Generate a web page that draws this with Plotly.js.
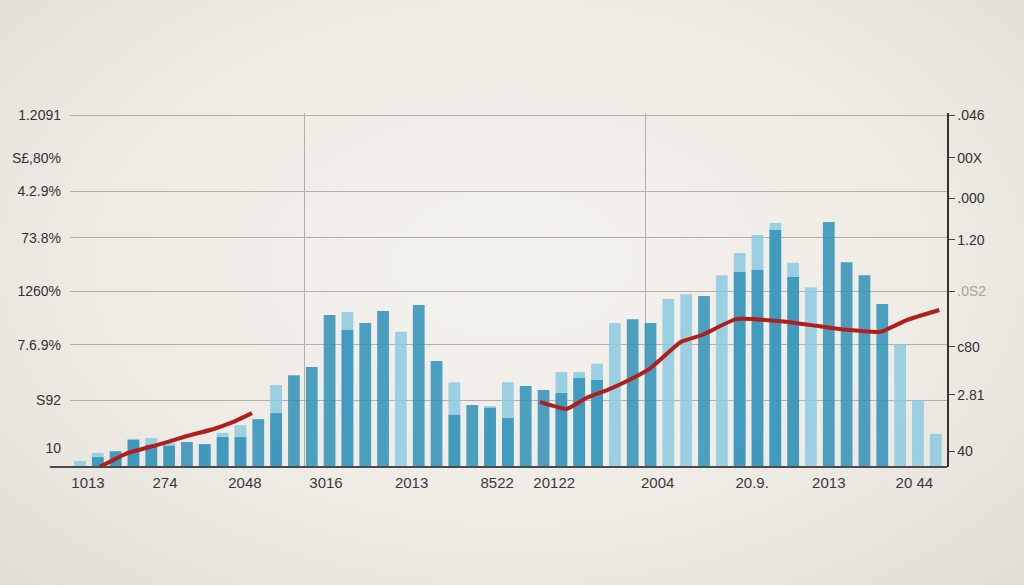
<!DOCTYPE html>
<html>
<head>
<meta charset="utf-8">
<script src="https://cdn.plot.ly/plotly-3.0.1.min.js"></script>
<style>
  html, body { margin: 0; padding: 0; }
  body {
    width: 1024px; height: 585px; overflow: hidden;
    background: radial-gradient(ellipse at 50% 45%, #f4f2ed 0%, #efece6 55%, #e2ded6 100%);
  }
  #chart { width: 1024px; height: 585px; }
</style>
</head>
<body>
<div id="chart"></div>
<script>
// ---- data (arbitrary units, 0..100) ----
const barIndex = [0,1,2,3,4,5,6,7,8,9,10,11,12,13,14,15,16,17,18,19,20,21,22,23,24,
                  25,26,27,28,29,30,31,32,33,34,35,36,37,38,39,40,41,42,43,44,45,46,47,48];

const lightValues = [1.7,4.0,4.0,8.0,8.2,6.8,null,6.5,9.7,11.9,null,23.3,null,null,null,44.0,null,null,38.4,null,
                     null,24.1,null,17.3,24.1,null,null,27.0,27.0,29.3,40.9,null,null,47.7,49.1,null,54.5,60.8,65.9,69.3,
                     58.0,51.1,null,null,null,null,34.9,19.0,9.4];

const darkValues  = [null,2.8,4.5,7.7,6.3,6.0,7.1,6.5,8.5,8.5,13.6,15.3,26.1,28.4,43.2,38.9,40.9,44.3,null,46.0,
                     30.1,14.8,17.6,16.8,13.9,23.0,21.9,21.0,25.3,24.7,null,42.0,40.9,null,null,48.6,null,55.4,56.0,67.3,
                     54.0,null,69.6,58.2,54.5,46.3,null,null,null];

const lineX = [1.1,2.7,4.5,6.0,7.5,8.6,9.65, 17.5,
               25.8,27.3,28.4,29.6,30.8,32.0,33.7,34.9,36.8,39.7,41.3,42.6,44.9,46.4,48.2];
const lineY = [0,4.0,6.5,8.8,10.8,12.8,15.3, null,
               18.5,16.5,19.6,21.9,24.7,28.1,35.5,37.5,42.0,41.2,40.1,39.2,38.4,41.8,44.6];

const xTickVals = [0.45,4.77,9.25,13.8,18.6,23.4,26.6,32.4,37.7,42.0,46.8];
const xTickText = ["1013","274","2048","3016","2013","8522","20122","2004","20.9.","2013","20 44"];

const leftTickVals = [100,87.8,78.4,65.1,50.0,34.7,19.0,5.4];
const leftTickText = ["1.2091","S£,80%","4.2.9%","73.8%","1260%","7.6.9%","S92","10"];

const rightTickVals = [100,87.8,76.4,64.5,50.0,34.1,20.5,4.5];
const rightTickText = [".046","00X",".000","1.20",'<span style="color:#a7a49e">.0S2</span>',"c80","2.81","40"];

const hGridVals = [100,78.4,65.1,50.0,34.7,19.0];
const vGridVals = [12.6,31.7];

// ---- chart ----
const xRange = [-0.56, 48.63];
const yRange = [0, 100.57];
const font = {family: "Liberation Sans, Arial, sans-serif", size: 14, color: "#3a3a3a"};

const traces = [
  {type: "bar", x: barIndex, y: lightValues, width: 0.66,
   marker: {color: "rgba(140,202,225,0.85)", line: {width: 0}}, hoverinfo: "skip"},
  {type: "bar", x: barIndex, y: darkValues, width: 0.66,
   marker: {color: "rgba(50,145,184,0.86)", line: {width: 0}}, hoverinfo: "skip"},
  {type: "scatter", mode: "lines", x: lineX, y: lineY, connectgaps: false,
   line: {color: "#b21e1e", width: 4, shape: "spline", smoothing: 0.4}, hoverinfo: "skip"}
];

const layout = {
  width: 1024, height: 585,
  margin: {l: 70, r: 77, t: 113, b: 118},
  paper_bgcolor: "rgba(0,0,0,0)",
  plot_bgcolor: "rgba(0,0,0,0)",
  showlegend: false,
  barmode: "overlay",
  font: font,
  xaxis: {range: xRange, tickmode: "array", tickvals: xTickVals, ticktext: xTickText,
          showgrid: false, zeroline: false, showline: false, ticks: "",
          ticklabelstandoff: 5, tickfont: {size: 15, color: "#3a3a3a"}},
  xaxis2: {overlaying: "x", matches: "x", range: xRange, tickmode: "array", tickvals: vGridVals,
           showticklabels: false, showgrid: true, gridcolor: "#b3b0a9", gridwidth: 1,
           zeroline: false, ticks: ""},
  yaxis: {range: yRange, tickmode: "array", tickvals: leftTickVals, ticktext: leftTickText,
          showgrid: false, zeroline: false, showline: false, ticks: "",
          ticklabelstandoff: 8, tickfont: {size: 14, color: "#333"}},
  yaxis3: {overlaying: "y", range: yRange, tickmode: "array", tickvals: hGridVals,
           showticklabels: false, showgrid: true, gridcolor: "#b3b0a9", gridwidth: 1,
           zeroline: false, ticks: ""},
  yaxis2: {overlaying: "y", side: "right", range: yRange, tickmode: "array",
           tickvals: rightTickVals, ticktext: rightTickText,
           showgrid: false, zeroline: false, showline: true, linecolor: "#333", linewidth: 1.5,
           ticks: "outside", ticklen: 6, tickcolor: "#444", tickwidth: 1,
           tickfont: {size: 14, color: "#333"}},
  shapes: [
    {type: "line", xref: "paper", yref: "paper", x0: -0.023, x1: 1, y0: 0, y1: 0,
     line: {color: "#4a4a4a", width: 2}}
  ]
};

// attach the grid-only axes to invisible dummy traces so they are drawn
traces.push({type: "scatter", x: [xRange[0]], y: [0], xaxis: "x2", yaxis: "y3",
             mode: "markers", marker: {opacity: 0}, hoverinfo: "skip"});
traces.push({type: "scatter", x: [xRange[0]], y: [0], xaxis: "x", yaxis: "y2",
             mode: "markers", marker: {opacity: 0}, hoverinfo: "skip"});

Plotly.newPlot("chart", traces, layout, {displayModeBar: false, staticPlot: true});
</script>
</body>
</html>
